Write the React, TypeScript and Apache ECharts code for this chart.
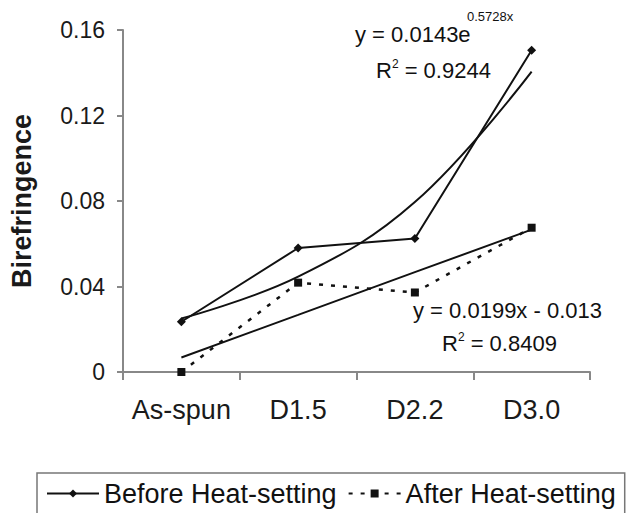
import React, { useEffect, useRef } from "react";
import * as echarts from "echarts";

const categories = ["As-spun", "D1.5", "D2.2", "D3.0"];
const beforeHeat = [0.0235, 0.058, 0.0625, 0.1505];
const afterHeat = [0.0, 0.0418, 0.0372, 0.0675];
const expTrend = [0.025, 0.0446, 0.0795, 0.1405];
const linTrend = [0.0068, 0.0267, 0.0467, 0.0666];
const yTicks = [0, 0.04, 0.08, 0.12, 0.16];

const FONT = "'Liberation Sans', Arial, sans-serif";

export default function App() {
  const ref = useRef<HTMLDivElement>(null);
  useEffect(() => {
    if (!ref.current) return;
    const chart = echarts.init(ref.current, null, { renderer: "svg" });
    const txt = (text: string, x: number, y: number, size: number) => ({
      type: "text",
      x,
      y,
      style: {
        text,
        fill: "#111",
        fontSize: size,
        fontFamily: FONT,
        textAlign: "left",
        textVerticalAlign: "middle",
        lineHeight: 24,
        rich: {
          r: { fontSize: size, fontFamily: FONT, fill: "#111", lineHeight: 24, verticalAlign: "middle" },
          s: { fontSize: 12, fontFamily: FONT, fill: "#111", lineHeight: 24, verticalAlign: "top" },
        },
      },
    });
    chart.setOption({
      animation: false,
      backgroundColor: "#fff",
      textStyle: { fontFamily: FONT },
      grid: { left: 123, right: 36, top: 30, bottom: 141, containLabel: false },
      xAxis: {
        type: "category",
        data: categories,
        boundaryGap: true,
        axisLine: { lineStyle: { color: "#888", width: 2 } },
        axisTick: { show: true, length: 8, lineStyle: { color: "#888", width: 2 } },
        axisLabel: { color: "#1a1a1a", fontSize: 27, margin: 24, interval: 0, fontFamily: FONT },
      },
      yAxis: {
        type: "value",
        min: yTicks[0],
        max: yTicks[yTicks.length - 1],
        interval: 0.04,
        name: "Birefringence",
        nameLocation: "middle",
        nameGap: 88,
        nameTextStyle: { fontSize: 27, fontWeight: "bold", color: "#1a1a1a", fontFamily: FONT },
        axisLine: { show: true, lineStyle: { color: "#888", width: 2 } },
        axisTick: { show: true, length: 6, lineStyle: { color: "#888", width: 2 } },
        splitLine: { show: false },
        axisLabel: {
          color: "#1a1a1a",
          fontSize: 23,
          margin: 18,
          fontFamily: FONT,
          formatter: (v: number) => String(Number(v.toFixed(2))),
        },
      },
      legend: {
        left: 37,
        top: 473,
        orient: "horizontal",
        itemWidth: 52,
        itemHeight: 10,
        itemGap: 11,
        padding: [7, 9, 14, 9],
        borderColor: "#777",
        borderWidth: 1.5,
        textStyle: { fontSize: 27, color: "#111", fontFamily: FONT },
        data: ["Before Heat-setting", "After Heat-setting"],
      },
      series: [
        {
          name: "Before Heat-setting",
          type: "line",
          data: beforeHeat,
          symbol: "diamond",
          symbolSize: 9,
          itemStyle: { color: "#111" },
          lineStyle: { color: "#111", width: 2 },
        },
        {
          name: "After Heat-setting",
          type: "line",
          data: afterHeat,
          symbol: "rect",
          symbolSize: 8,
          itemStyle: { color: "#111" },
          lineStyle: { color: "#111", width: 2.5, type: [4, 8] },
        },
        {
          name: "Exp trend",
          type: "line",
          data: expTrend,
          symbol: "none",
          smooth: 0.4,
          lineStyle: { color: "#111", width: 2 },
          silent: true,
        },
        {
          name: "Linear trend",
          type: "line",
          data: linTrend,
          symbol: "none",
          lineStyle: { color: "#111", width: 2 },
          silent: true,
        },
      ],
      graphic: [
        txt("y = 0.0143e", 355, 34, 22),
        txt("0.5728x", 467, 16, 13),
        txt("{r|R}{s|2}{r| = 0.9244}", 376, 70, 22),
        txt("y = 0.0199x - 0.013", 413, 310, 22),
        txt("{r|R}{s|2}{r| = 0.8409}", 442, 343, 22),
      ],
    });
    return () => chart.dispose();
  }, []);
  return <div ref={ref} style={{ width: 626, height: 513, position: "absolute", left: 0, top: 0 }} />;
}
